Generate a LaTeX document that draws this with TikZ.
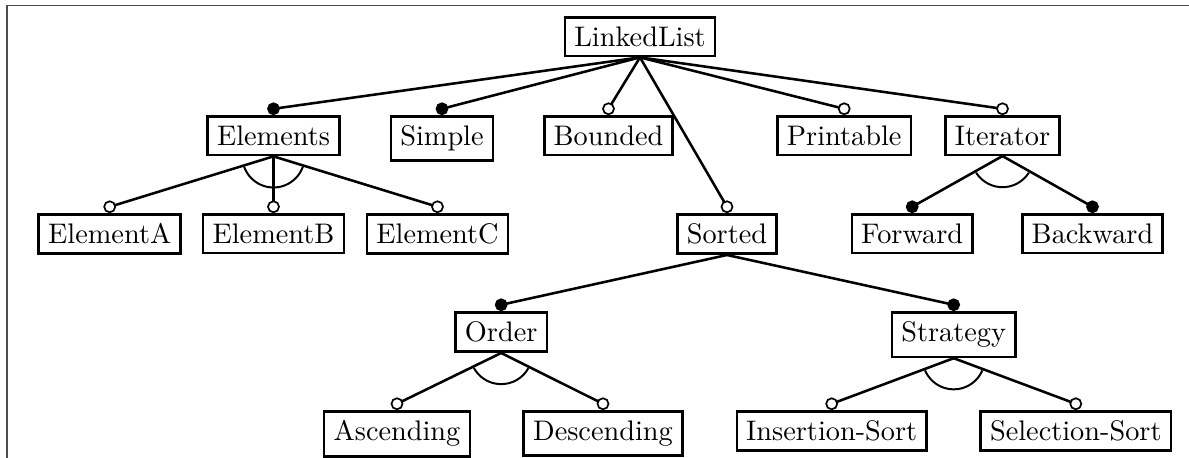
\documentclass[tikz,border=0pt]{standalone}
\begin{document}
\begin{tikzpicture}[x=0.3534pt,y=-0.3534pt,
  feat/.style={draw,line width=0.9pt,anchor=north,inner sep=0.3333em},
  conn/.style={line width=0.9pt},
  mandc/.style={circle,draw,fill=black,line width=0.6pt,inner sep=0pt,minimum size=3.9pt},
  optc/.style={circle,draw,fill=white,line width=0.6pt,inner sep=0pt,minimum size=3.9pt},
  grouparc/.style={line width=0.7pt}]
\useasboundingbox (0,0) rectangle (1189,457);
\draw[black!70,line width=0.5pt] (1300,5.7) -- (7,5.7) -- (7,500);
% nodes
\node[feat] (ll) at (640,16) {LinkedList};
\node[feat] (el) at (273.5,115) {Elements};
\node[feat] (si) at (442,115) {Simple};
\node[feat] (bo) at (608.5,115) {Bounded};
\node[feat] (pr) at (844.2,115) {Printable};
\node[feat] (it) at (1002.5,115) {Iterator};
\node[feat] (ea) at (109.7,213) {ElementA};
\node[feat] (eb) at (273.5,213) {ElementB};
\node[feat] (ec) at (437.5,213) {ElementC};
\node[feat] (so) at (727,213) {Sorted};
\node[feat] (fw) at (912.2,213) {Forward};
\node[feat] (bw) at (1092.5,213) {Backward};
\node[feat] (or) at (501.2,311) {Order};
\node[feat] (st) at (953.7,311) {Strategy};
\node[feat] (as) at (397,410) {Ascending};
\node[feat] (de) at (603,410) {Descending};
\node[feat] (is) at (831.7,410) {Insertion-Sort};
\node[feat] (ss) at (1075.8,410) {Selection-Sort};
% group arcs
\begin{scope}
\clip (el.south) -- (ea.north) -- (ec.north) -- cycle;
\draw[grouparc] (el.south) circle[radius=11pt];
\end{scope}
\begin{scope}
\clip (it.south) -- (fw.north) -- (bw.north) -- cycle;
\draw[grouparc] (it.south) circle[radius=11pt];
\end{scope}
\begin{scope}
\clip (or.south) -- (as.north) -- (de.north) -- cycle;
\draw[grouparc] (or.south) circle[radius=11pt];
\end{scope}
\begin{scope}
\clip (st.south) -- (is.north) -- (ss.north) -- cycle;
\draw[grouparc] (st.south) circle[radius=11pt];
\end{scope}
% connectors
\draw[conn] (ll.south) -- ([yshift=2.2pt]el.north) node[mandc] (c-el) {};
\draw[conn] (ll.south) -- ([yshift=2.2pt]si.north) node[mandc] (c-si) {};
\draw[conn] (ll.south) -- ([yshift=2.2pt]bo.north) node[optc] (c-bo) {};
\draw[conn] (ll.south) -- ([yshift=2.2pt]so.north) node[optc] (c-so) {};
\draw[conn] (ll.south) -- ([yshift=2.2pt]pr.north) node[optc] (c-pr) {};
\draw[conn] (ll.south) -- ([yshift=2.2pt]it.north) node[optc] (c-it) {};
\draw[conn] (el.south) -- ([yshift=2.2pt]ea.north) node[optc] (c-ea) {};
\draw[conn] (el.south) -- ([yshift=2.2pt]eb.north) node[optc] (c-eb) {};
\draw[conn] (el.south) -- ([yshift=2.2pt]ec.north) node[optc] (c-ec) {};
\draw[conn] (it.south) -- ([yshift=2.2pt]fw.north) node[mandc] (c-fw) {};
\draw[conn] (it.south) -- ([yshift=2.2pt]bw.north) node[mandc] (c-bw) {};
\draw[conn] (so.south) -- ([yshift=2.2pt]or.north) node[mandc] (c-or) {};
\draw[conn] (so.south) -- ([yshift=2.2pt]st.north) node[mandc] (c-st) {};
\draw[conn] (or.south) -- ([yshift=2.2pt]as.north) node[optc] (c-as) {};
\draw[conn] (or.south) -- ([yshift=2.2pt]de.north) node[optc] (c-de) {};
\draw[conn] (st.south) -- ([yshift=2.2pt]is.north) node[optc] (c-is) {};
\draw[conn] (st.south) -- ([yshift=2.2pt]ss.north) node[optc] (c-ss) {};
\end{tikzpicture}
\end{document}
